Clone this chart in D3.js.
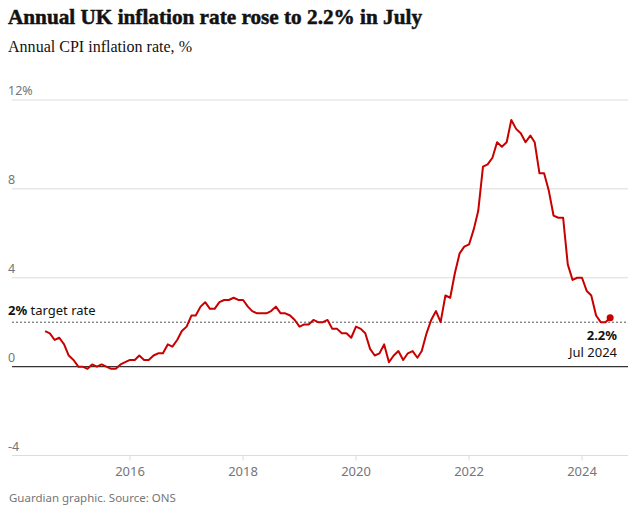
<!DOCTYPE html>
<html>
<head>
<meta charset="utf-8">
<script src="https://cdn.jsdelivr.net/npm/d3@7"></script>
<style>
  html, body { margin: 0; padding: 0; background: #fff; }
  svg { display: block; }
</style>
</head>
<body>
<svg id="chart" width="633" height="512"></svg>
<script>
// ---- Data ----
const startYear = 2014, startMonth = 7; // July 2014
const cpiValues = [
  // 2014 Jul-Dec
  1.6, 1.5, 1.2, 1.3, 1.0, 0.5,
  // 2015
  0.3, 0.0, 0.0, -0.1, 0.1, 0.0, 0.1, 0.0, -0.1, -0.1, 0.1, 0.2,
  // 2016
  0.3, 0.3, 0.5, 0.3, 0.3, 0.5, 0.6, 0.6, 1.0, 0.9, 1.2, 1.6,
  // 2017
  1.8, 2.3, 2.3, 2.7, 2.9, 2.6, 2.6, 2.9, 3.0, 3.0, 3.1, 3.0,
  // 2018
  3.0, 2.7, 2.5, 2.4, 2.4, 2.4, 2.5, 2.7, 2.4, 2.4, 2.3, 2.1,
  // 2019
  1.8, 1.9, 1.9, 2.1, 2.0, 2.0, 2.1, 1.7, 1.7, 1.5, 1.5, 1.3,
  // 2020
  1.8, 1.7, 1.5, 0.8, 0.5, 0.6, 1.0, 0.2, 0.5, 0.7, 0.3, 0.6,
  // 2021
  0.7, 0.4, 0.7, 1.5, 2.1, 2.5, 2.0, 3.2, 3.1, 4.2, 5.1, 5.4,
  // 2022
  5.5, 6.2, 7.0, 9.0, 9.1, 9.4, 10.1, 9.9, 10.1, 11.1, 10.7, 10.5,
  // 2023
  10.1, 10.4, 10.1, 8.7, 8.7, 7.9, 6.8, 6.7, 6.7, 4.6, 3.9, 4.0,
  // 2024 Jan-Jul
  4.0, 3.4, 3.2, 2.3, 2.0, 2.0, 2.2
];
const yTicks = [-4, 0, 4, 8, 12];
const yTickLabels = ["-4", "0", "4", "8", "12%"];
const xTickYears = [2016, 2018, 2020, 2022, 2024];
const targetRate = 2;

const data = cpiValues.map((v, i) => ({
  date: new Date(startYear, startMonth - 1 + i, 1),
  value: v
}));

// ---- Layout ----
const svg = d3.select("#chart");
const left = 12, right = 628;

const x = d3.scaleTime()
  .domain([new Date(2016, 0, 1), new Date(2024, 0, 1)])
  .range([130, 582]);
const y = d3.scaleLinear().domain([-4, 12]).range([455.5, 100]);

const sans = "'Noto Sans', 'DejaVu Sans', sans-serif";
const serif = "'Liberation Serif', 'DejaVu Serif', serif";

// Title & subtitle
svg.append("text")
  .attr("x", 8).attr("y", 24)
  .attr("font-family", serif).attr("font-weight", "bold")
  .attr("font-size", 21).attr("fill", "#121212")
  .attr("stroke", "#121212").attr("stroke-width", 0.5)
  .attr("textLength", 414).attr("lengthAdjust", "spacingAndGlyphs")
  .text("Annual UK inflation rate rose to 2.2% in July");

svg.append("text")
  .attr("x", 8).attr("y", 52)
  .attr("font-family", serif)
  .attr("font-size", 16).attr("fill", "#121212")
  .attr("textLength", 184).attr("lengthAdjust", "spacingAndGlyphs")
  .text("Annual CPI inflation rate, %");

// Gridlines
const grid = svg.append("g");
yTicks.filter(d => d !== 0).forEach(t => {
  grid.append("line")
    .attr("x1", left).attr("x2", right)
    .attr("y1", y(t)).attr("y2", y(t))
    .attr("stroke", "#dcdcdc").attr("stroke-width", 1);
});
yTicks.forEach((t, i) => {
  grid.append("text")
    .attr("x", 8).attr("y", y(t) - 5)
    .attr("font-family", sans).attr("font-size", 12.5)
    .attr("fill", "#767676")
    .text(yTickLabels[i]);
});

// X axis ticks & labels
xTickYears.forEach(yr => {
  const xp = x(new Date(yr, 0, 1));
  svg.append("line")
    .attr("x1", xp).attr("x2", xp)
    .attr("y1", y(-4)).attr("y2", y(-4) + 5)
    .attr("stroke", "#dcdcdc");
  svg.append("text")
    .attr("x", xp).attr("y", 476)
    .attr("text-anchor", "middle")
    .attr("font-family", sans).attr("font-size", 13)
    .attr("fill", "#767676")
    .text(yr);
});

// Target line
svg.append("line")
  .attr("x1", left).attr("x2", right)
  .attr("y1", y(targetRate)).attr("y2", y(targetRate))
  .attr("stroke", "#555").attr("stroke-width", 1)
  .attr("stroke-dasharray", "2,2");

const tl = svg.append("text")
  .attr("x", 8).attr("y", y(targetRate) - 7)
  .attr("font-family", sans).attr("font-size", 13)
  .attr("fill", "#121212");
tl.append("tspan").attr("font-weight", "bold").text("2%");
tl.append("tspan").text(" target rate");

// Zero line
svg.append("line")
  .attr("x1", left).attr("x2", right)
  .attr("y1", y(0)).attr("y2", y(0))
  .attr("stroke", "#333").attr("stroke-width", 1.3);

// Line
const line = d3.line().x(d => x(d.date)).y(d => y(d.value));
svg.append("path")
  .datum(data)
  .attr("d", line)
  .attr("fill", "none")
  .attr("stroke", "#c70000")
  .attr("stroke-width", 2)
  .attr("stroke-linejoin", "round");

const last = data[data.length - 1];
svg.append("circle")
  .attr("cx", x(last.date)).attr("cy", y(last.value))
  .attr("r", 3.5).attr("fill", "#c70000");

// Annotation
svg.append("text")
  .attr("x", 617).attr("y", 340)
  .attr("text-anchor", "end")
  .attr("font-family", sans).attr("font-size", 13).attr("font-weight", "bold")
  .attr("fill", "#121212")
  .text(last.value.toFixed(1) + "%");
svg.append("text")
  .attr("x", 617).attr("y", 357)
  .attr("text-anchor", "end")
  .attr("font-family", sans).attr("font-size", 13)
  .attr("fill", "#121212")
  .text("Jul 2024");

// Footer
svg.append("text")
  .attr("x", 9).attr("y", 502)
  .attr("font-family", sans).attr("font-size", 11.5)
  .attr("fill", "#767676")
  .text("Guardian graphic. Source: ONS");
</script>
</body>
</html>
